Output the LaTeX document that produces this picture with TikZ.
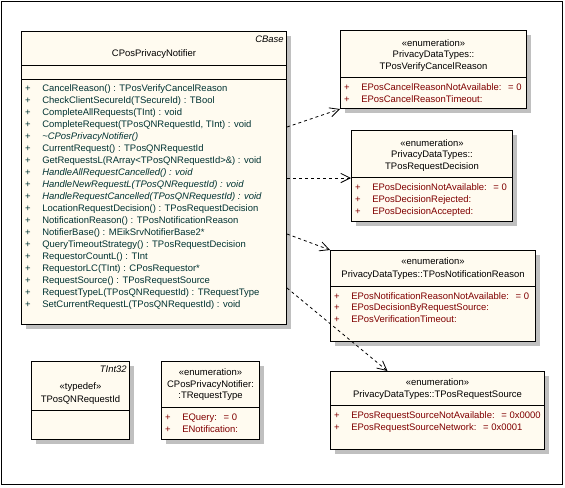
\documentclass[tikz,border=0pt]{standalone}
\usepackage{fontspec}
\setmainfont{Liberation Sans}
\usetikzlibrary{positioning, calc, arrows.meta, shadows}

\definecolor{boxfill}{RGB}{255,251,240}
\definecolor{boxshadow}{RGB}{192,192,192}
\definecolor{attrred}{RGB}{128,0,0}
\definecolor{optext}{RGB}{0,51,51}

\tikzset{
  classbox/.style={draw, fill=boxfill, line width=0.75pt, anchor=north west, inner sep=0pt,
    drop shadow={shadow xshift=3pt, shadow yshift=-3pt, fill=boxshadow, opacity=1}},
  txt/.style={inner sep=0pt, font=\fontsize{7.1}{9}\selectfont},
  optxt/.style={txt, anchor=base west, text=optext},
  attrtxt/.style={txt, anchor=base west, text=attrred},
  dep/.style={->, dash pattern=on 2.25pt off 2.25pt, line width=0.6pt},
}

\begin{document}
\begin{tikzpicture}[x=0.75pt, y=-0.75pt, >={Straight Barb[length=7pt, width=7pt]}]
      \useasboundingbox (0,0) rectangle (565,487);
      \draw[line width=0.75pt] (1.5,1.5) rectangle (562.5,484.5);

      % boxes
      \node[classbox, minimum width=198.75pt, minimum height=219.75pt] (main) at (21,31) {};
      \node[classbox, minimum width=139.5pt, minimum height=58.5pt] (vcr) at (340,30) {};
      \node[classbox, minimum width=120.75pt, minimum height=68.25pt] (dec) at (351,130) {};
      \node[classbox, minimum width=153.75pt, minimum height=68.25pt] (nr) at (330,250) {};
      \node[classbox, minimum width=160.5pt, minimum height=58.5pt] (src) at (330,371) {};
      \node[classbox, minimum width=73.5pt, minimum height=58.5pt] (qnid) at (31,361) {};
      \node[classbox, minimum width=73.5pt, minimum height=58.5pt] (rtype) at (161,361) {};

      % CPosPrivacyNotifier
      \node[txt, anchor=base east] at ($ (main.north east) + (-3,11.5) $) {\textit{CBase}};
      \node[txt, anchor=base] at ($ (main.north) + (0,25.5) $) {CPosPrivacyNotifier};
      \draw[line width=0.75pt] ($ (main.north west) + (0,34) $) -- ($ (main.north east) + (0,34) $);
      \draw[line width=0.75pt] ($ (main.north west) + (0,48) $) -- ($ (main.north east) + (0,48) $);
      \foreach \op [count=\k from 0] in {
          CancelReason() : TPosVerifyCancelReason,
          CheckClientSecureId(TSecureId) : TBool,
          CompleteAllRequests(TInt) : void,
          {CompleteRequest(TPosQNRequestId, TInt) : void},
          \textit{\textasciitilde CPosPrivacyNotifier()},
          CurrentRequest() : TPosQNRequestId,
          GetRequestsL(RArray<TPosQNRequestId>\&) : void,
          \textit{HandleAllRequestCancelled() : void},
          \textit{HandleNewRequestL(TPosQNRequestId) : void},
          \textit{HandleRequestCancelled(TPosQNRequestId) : void},
          LocationRequestDecision() : TPosRequestDecision,
          NotificationReason() : TPosNotificationReason,
          NotifierBase() : MEikSrvNotifierBase2*,
          QueryTimeoutStrategy() : TPosRequestDecision,
          RequestorCountL() : TInt,
          RequestorLC(TInt) : CPosRequestor*,
          RequestSource() : TPosRequestSource,
          RequestTypeL(TPosQNRequestId) : TRequestType,
          SetCurrentRequestL(TPosQNRequestId) : void} {
        \node[optxt, anchor=base] at (28, 91.5+12*\k) {+};
        \node[optxt] at (42, 91.5+12*\k) {\op};
      }

      % TPosVerifyCancelReason
      \node[txt, anchor=base] at ($ (vcr.north) + (0,16) $) {«enumeration»};
      \node[txt, anchor=base] at ($ (vcr.north) + (0,27.5) $) {PrivacyDataTypes::};
      \node[txt, anchor=base] at ($ (vcr.north) + (0,39) $) {TPosVerifyCancelReason};
      \draw[line width=0.75pt] ($ (vcr.north west) + (0,47) $) -- ($ (vcr.north east) + (0,47) $);
      \node[attrtxt, anchor=base] at (347,90.5) {+};
      \node[attrtxt] at (361,90.5) {EPosCancelReasonNotAvailable:\hspace{5pt}= 0};
      \node[attrtxt, anchor=base] at (347,102.5) {+};
      \node[attrtxt] at (361,102.5) {EPosCancelReasonTimeout:};

      % TPosRequestDecision
      \node[txt, anchor=base] at ($ (dec.north) + (0,16) $) {«enumeration»};
      \node[txt, anchor=base] at ($ (dec.north) + (0,27.5) $) {PrivacyDataTypes::};
      \node[txt, anchor=base] at ($ (dec.north) + (0,39) $) {TPosRequestDecision};
      \draw[line width=0.75pt] ($ (dec.north west) + (0,47) $) -- ($ (dec.north east) + (0,47) $);
      \node[attrtxt, anchor=base] at (358,190.5) {+};
      \node[attrtxt] at (372,190.5) {EPosDecisionNotAvailable:\hspace{5pt}= 0};
      \node[attrtxt, anchor=base] at (358,202.5) {+};
      \node[attrtxt] at (372,202.5) {EPosDecisionRejected:};
      \node[attrtxt, anchor=base] at (358,214.5) {+};
      \node[attrtxt] at (372,214.5) {EPosDecisionAccepted:};

      % TPosNotificationReason
      \node[txt, anchor=base] at ($ (nr.north) + (0,14.6) $) {«enumeration»};
      \node[txt, anchor=base] at ($ (nr.north) + (0,27) $) {PrivacyDataTypes::TPosNotificationReason};
      \draw[line width=0.75pt] ($ (nr.north west) + (0,36) $) -- ($ (nr.north east) + (0,36) $);
      \node[attrtxt, anchor=base] at (337,299) {+};
      \node[attrtxt] at (351,299) {EPosNotificationReasonNotAvailable:\hspace{5pt}= 0};
      \node[attrtxt, anchor=base] at (337,310.5) {+};
      \node[attrtxt] at (351,310.5) {EPosDecisionByRequestSource:};
      \node[attrtxt, anchor=base] at (337,322) {+};
      \node[attrtxt] at (351,322) {EPosVerificationTimeout:};

      % TPosRequestSource
      \node[txt, anchor=base] at ($ (src.north) + (0,14.6) $) {«enumeration»};
      \node[txt, anchor=base] at ($ (src.north) + (0,26) $) {PrivacyDataTypes::TPosRequestSource};
      \draw[line width=0.75pt] ($ (src.north west) + (0,34) $) -- ($ (src.north east) + (0,34) $);
      \node[attrtxt, anchor=base] at (337,418.5) {+};
      \node[attrtxt] at (351,418.5) {EPosRequestSourceNotAvailable:\hspace{5pt}= 0x0000};
      \node[attrtxt, anchor=base] at (337,430.5) {+};
      \node[attrtxt] at (351,430.5) {EPosRequestSourceNetwork:\hspace{5pt}= 0x0001};

      % TPosQNRequestId
      \node[txt, anchor=base east] at ($ (qnid.north east) + (-3,11) $) {\textit{TInt32}};
      \node[txt, anchor=base] at ($ (qnid.north) + (0,28.3) $) {«typedef»};
      \node[txt, anchor=base] at ($ (qnid.north) + (0,41.3) $) {TPosQNRequestId};
      \draw[line width=0.75pt] ($ (qnid.north west) + (0,49) $) -- ($ (qnid.north east) + (0,49) $);

      % TRequestType
      \node[txt, anchor=base] at ($ (rtype.north) + (0,14.6) $) {«enumeration»};
      \node[txt, anchor=base] at ($ (rtype.north) + (0,26) $) {CPosPrivacyNotifier:};
      \node[txt, anchor=base] at ($ (rtype.north) + (0,37.6) $) {:TRequestType};
      \draw[line width=0.75pt] ($ (rtype.north west) + (0,46) $) -- ($ (rtype.north east) + (0,46) $);
      \node[attrtxt, anchor=base] at (168,420.8) {+};
      \node[attrtxt] at (182,420.8) {EQuery:\hspace{5pt}= 0};
      \node[attrtxt, anchor=base] at (168,432.5) {+};
      \node[attrtxt] at (182,432.5) {ENotification:};

      % dependencies
      \draw[dep] ([yshift=38.25pt]main.east) -- (vcr.south west);
      \draw[dep] (main.east) -- (main.east -| dec.west);
      \draw[dep] ([yshift=-42pt]main.east) -- (nr.north west);
      \draw[dep] ([yshift=-82.5pt]main.east) -- ([xshift=-37.5pt]src.north);
\end{tikzpicture}
\end{document}
